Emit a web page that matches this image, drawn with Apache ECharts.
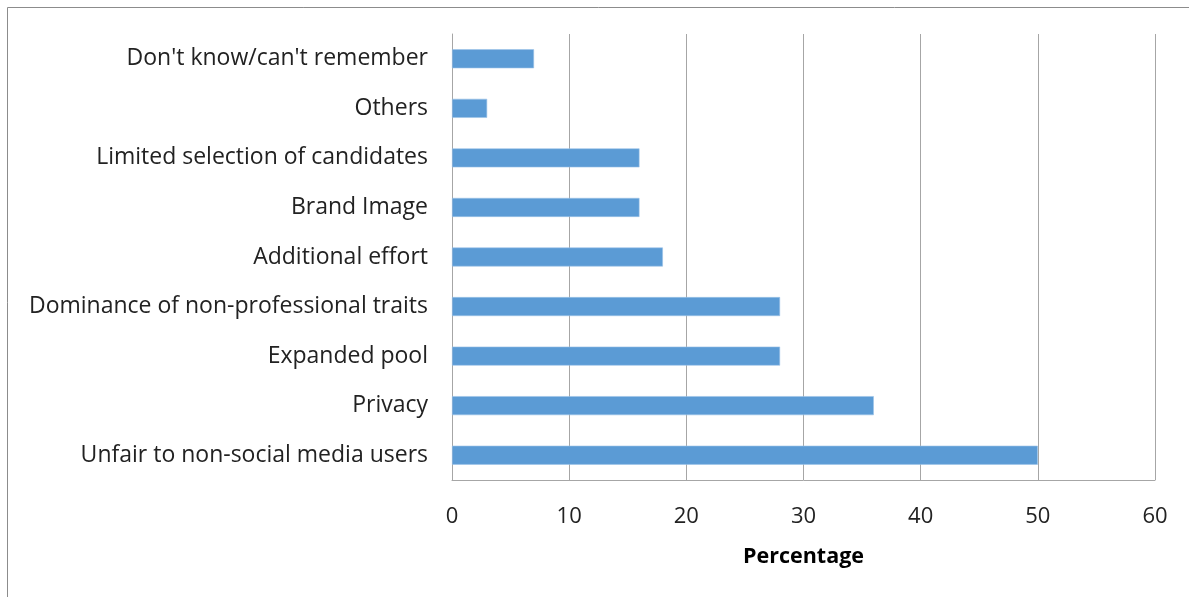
<!DOCTYPE html>
<html>
<head>
<meta charset="utf-8">
<script src="https://cdn.jsdelivr.net/npm/echarts@6/dist/echarts.min.js"></script>
<style>
  html, body { margin: 0; padding: 0; background: #fff; }
  #chart { width: 1189px; height: 597px; }
</style>
</head>
<body>
<div id="chart"></div>
<script>
// Reasons given, bottom to top as they appear on the category axis
const categories = [
  "Unfair to non-social media users",
  "Privacy",
  "Expanded pool",
  "Dominance of non-professional traits",
  "Additional effort",
  "Brand Image",
  "Limited selection of candidates",
  "Others",
  "Don't know/can't remember"
];
const percentages = [50, 36, 28, 28, 18, 16, 16, 3, 7];
const xTicks = [0, 10, 20, 30, 40, 50, 60];

const FONT = "'Open Sans', 'Noto Sans', sans-serif";

const chart = echarts.init(document.getElementById('chart'), null, { renderer: 'canvas' });
chart.setOption({
  animation: false,
  backgroundColor: '#ffffff',
  grid: { left: 452, right: 34, top: 34, bottom: 117, containLabel: false },
  graphic: [
    // outer chart frame (left and top edges)
    { type: 'polyline', silent: true,
      shape: { points: [[7.5, 600], [7.5, 7.5], [1195, 7.5]] },
      style: { stroke: '#8c8c8c', lineWidth: 1, fill: null } }
  ],
  xAxis: {
    type: 'value',
    min: xTicks[0],
    max: xTicks[xTicks.length - 1],
    interval: 10,
    name: 'Percentage',
    nameLocation: 'middle',
    nameGap: 66,
    nameTextStyle: { fontFamily: FONT, fontSize: 21.5, fontWeight: 'bold', color: '#000' },
    axisLine: { show: true, lineStyle: { color: '#a6a6a6', width: 1 } },
    axisTick: { show: false },
    axisLabel: { fontFamily: FONT, fontSize: 22, color: '#222', margin: 26 },
    splitLine: { show: true, lineStyle: { color: '#a6a6a6', width: 1 } }
  },
  yAxis: {
    type: 'category',
    data: categories,
    axisLine: { show: true, lineStyle: { color: '#a6a6a6', width: 1 } },
    axisTick: { show: false },
    axisLabel: { fontFamily: FONT, fontSize: 23, color: '#222', margin: 24 }
  },
  series: [{
    type: 'bar',
    data: percentages,
    barWidth: 19,
    itemStyle: { color: '#5b9bd5', borderColor: '#9cc3e8', borderWidth: 0.6 }
  }]
});
</script>
</body>
</html>
